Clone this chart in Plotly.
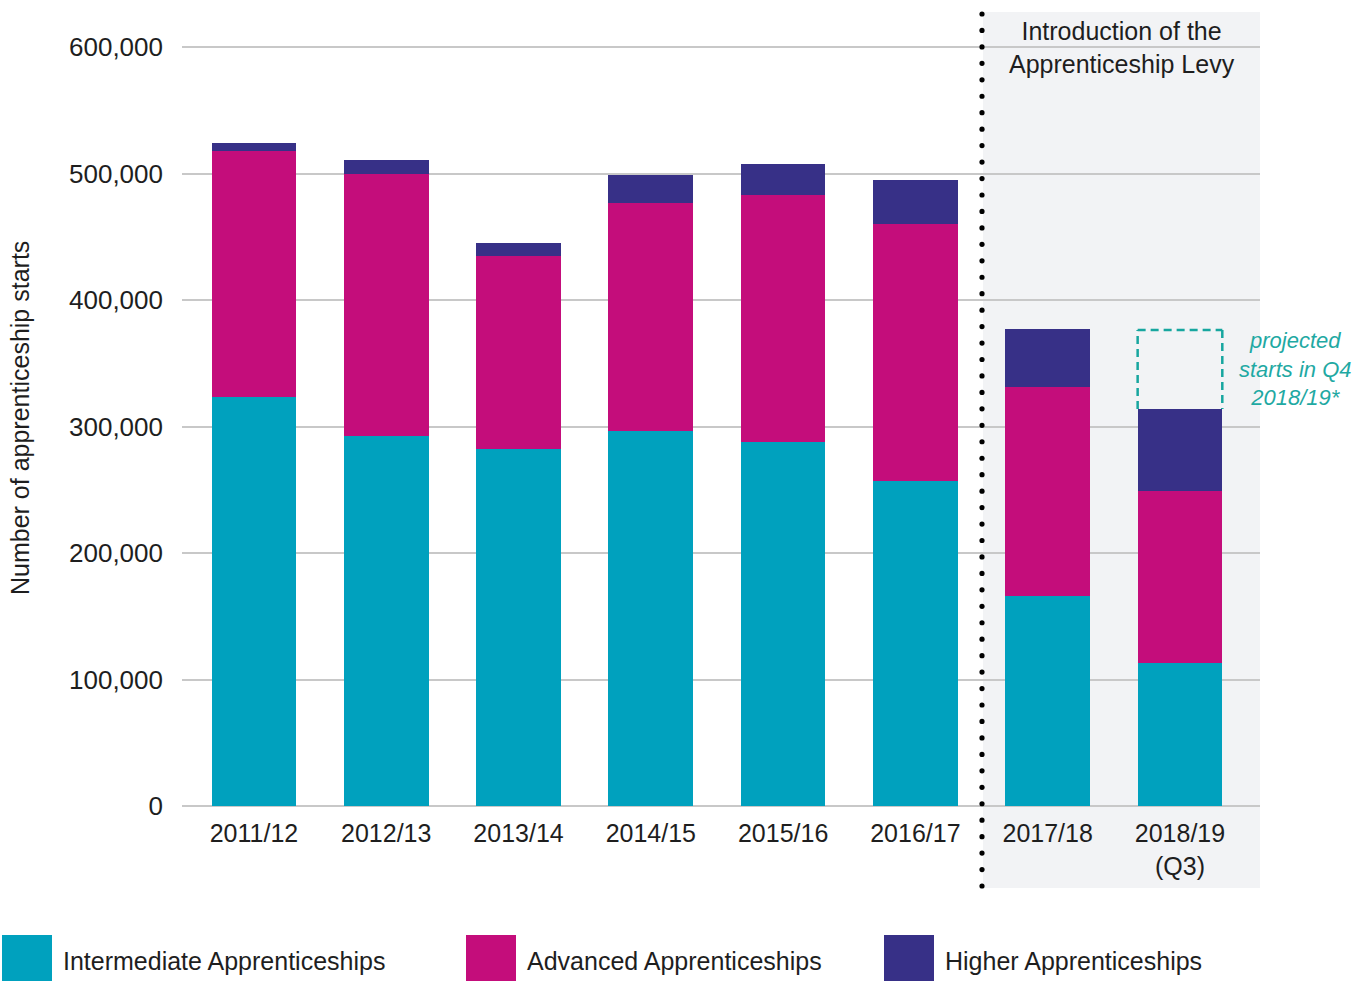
import plotly.graph_objects as go

# ---------------- data ----------------
years = ["2011/12", "2012/13", "2013/14", "2014/15", "2015/16", "2016/17", "2017/18", "2018/19<br>(Q3)"]
intermediate = [323300, 292700, 282200, 296400, 288000, 257200, 166000, 113000]
advanced = [194500, 206900, 152600, 180300, 195000, 202900, 165200, 136000]
higher = [6300, 11100, 10300, 22100, 24500, 34800, 45900, 64800]
projected_total_2018_19 = 376300
y_ticks = [0, 100000, 200000, 300000, 400000, 500000, 600000]

series_names = ["Intermediate Apprenticeships", "Advanced Apprenticeships", "Higher Apprenticeships"]
series_colors = ["#00A1BE", "#C40D7B", "#373087"]

# ---------------- geometry ----------------
W, H = 1371, 981
L, R, T, B = 182, 1260, 12, 806
pw, ph = R - L, B - T

def px2x(px):
    return (px - L) / pw

def py2y(py):
    return (B - py) / ph

FONT = "Liberation Sans, Arial, sans-serif"
TXT = "#1e1e1e"
TEAL = "#17A69F"

fig = go.Figure()
for name, vals, col in zip(series_names, [intermediate, advanced, higher], series_colors):
    fig.add_trace(go.Bar(x=years, y=vals, name=name, marker=dict(color=col, line=dict(width=0)),
                         width=0.64, showlegend=False))

shapes = []
# shaded levy region
shapes.append(dict(type="rect", xref="paper", yref="paper", x0=px2x(983), x1=1.0,
                   y0=py2y(888), y1=1.0, fillcolor="#F2F3F5", line=dict(width=0), layer="below"))
# projected dashed box (three sides) on last bar
last = len(years) - 1
last_total = intermediate[last] + advanced[last] + higher[last]
bx0, bx1 = last - 0.32, last + 0.32
dash_line = dict(color=TEAL, width=2.5, dash="8px,5px")
for (xa, ya, xb, yb) in [(bx0, last_total, bx0, projected_total_2018_19),
                         (bx0, projected_total_2018_19, bx1, projected_total_2018_19),
                         (bx1, projected_total_2018_19, bx1, last_total)]:
    shapes.append(dict(type="line", xref="x", yref="y", x0=xa, y0=ya, x1=xb, y1=yb,
                       line=dash_line, layer="below"))
# dotted separator line (round dots)
n_dots = 54
for i in range(n_dots):
    cy = 14 + i * (886 - 14) / (n_dots - 1)
    shapes.append(dict(type="circle", xref="paper", yref="paper",
                       x0=px2x(982 - 2.6), x1=px2x(982 + 2.6),
                       y0=py2y(cy + 2.6), y1=py2y(cy - 2.6),
                       fillcolor="#000000", line=dict(width=0), layer="above"))
# legend squares
legend_px = [(2, 63), (466, 527), (884, 945)]
annotations = []
for (sx, tx), name, col in zip(legend_px, series_names, series_colors):
    shapes.append(dict(type="rect", xref="paper", yref="paper", x0=px2x(sx), x1=px2x(sx + 50),
                       y0=py2y(981), y1=py2y(935), fillcolor=col, line=dict(width=0)))
    annotations.append(dict(xref="paper", yref="paper", x=px2x(tx - 2), y=py2y(961), text=name,
                            showarrow=False, xanchor="left", yanchor="middle",
                            font=dict(family=FONT, size=25, color=TXT)))

annotations.append(dict(xref="paper", yref="paper", x=px2x(1122), y=py2y(48),
                        text="Introduction of the<br>Apprenticeship Levy", showarrow=False,
                        xanchor="center", yanchor="middle", align="center",
                        font=dict(family=FONT, size=25, color=TXT)))
annotations.append(dict(xref="paper", yref="paper", x=px2x(1295), y=py2y(369),
                        text="<i>projected<br>starts in Q4<br>2018/19*</i>", showarrow=False,
                        xanchor="center", yanchor="middle", align="center",
                        font=dict(family=FONT, size=22, color="#1FA9A3")))
annotations.append(dict(xref="paper", yref="paper", x=px2x(20), y=py2y(418),
                        text="Number of apprenticeship starts", showarrow=False, textangle=-90,
                        xanchor="center", yanchor="middle",
                        font=dict(family=FONT, size=25, color=TXT)))

fig.update_layout(
    width=W, height=H,
    margin=dict(l=L, r=W - R, t=T, b=H - B, autoexpand=False),
    barmode="stack",
    plot_bgcolor="rgba(0,0,0,0)", paper_bgcolor="white",
    shapes=shapes, annotations=annotations,
    showlegend=False,
    xaxis=dict(type="category", range=[-0.544, 7.605], showgrid=False, showline=False,
               ticks="", ticklabelstandoff=10,
               tickfont=dict(family=FONT, size=25, color=TXT)),
    yaxis=dict(range=[0, 627700], tickvals=y_ticks, tickformat=",d", showgrid=True,
               gridcolor="#C8C8C8", gridwidth=1.5, zeroline=True, zerolinecolor="#C8C8C8",
               zerolinewidth=1.5, showline=False, ticks="", ticklabelstandoff=18,
               tickfont=dict(family=FONT, size=26, color=TXT)),
)

fig.write_html("out.html", config={"displayModeBar": False},
               post_script="document.body.style.margin='0px';document.body.style.padding='0px';")
